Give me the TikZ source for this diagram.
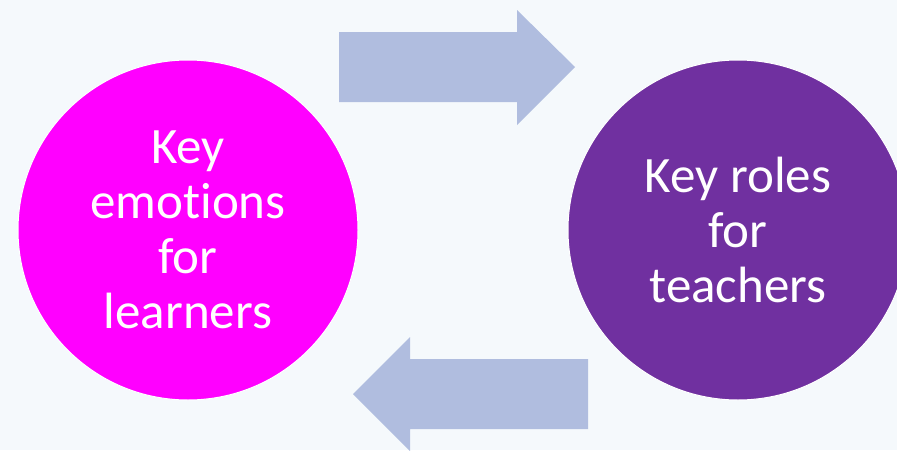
\documentclass[tikz,border=0pt]{standalone}
\usepackage{fontspec}
\setmainfont{Carlito}[Ligatures=NoCommon]
\usepackage{tikz}
\usetikzlibrary{positioning}

\definecolor{pagebg}{HTML}{F5F9FC}
\definecolor{arrowblue}{HTML}{B0BDDF}
\definecolor{hotpink}{HTML}{FF00FF}
\definecolor{deeppurple}{HTML}{7030A0}

\begin{document}
\begin{tikzpicture}[
    x=1pt, y=-1pt, % pixel-like units, y grows downwards
    topic/.style={
        circle, % Round nodes
        minimum size=340pt, % Diameter of the circles
        draw=white, % Thin white rim
        line width=1pt,
        text=white, % White text on the fill
        align=center, % Center text within nodes
        font=\fontsize{51}{55}\selectfont
    },
    blockarrow/.style={fill=arrowblue, draw=none}
]

% page background and picture size
\fill[pagebg] (0,0) rectangle (897,450);
\useasboundingbox (0,0) rectangle (897,450);

\node[topic, fill=hotpink] (learners) at (188,230) {Key\\emotions\\for\\learners};
\node[topic, fill=deeppurple] (teachers) at (738,230) {Key roles\\for\\teachers};

% arrow from learners to teachers
\fill[blockarrow] (339,32) -- (517,32) -- (517,10) -- (575,67) -- (517,125) -- (517,102) -- (339,102) -- cycle;
% arrow from teachers back to learners
\fill[blockarrow] (588,359) -- (410,359) -- (410,337) -- (353,394) -- (410,451) -- (410,429) -- (588,429) -- cycle;

\end{tikzpicture}
\end{document}
